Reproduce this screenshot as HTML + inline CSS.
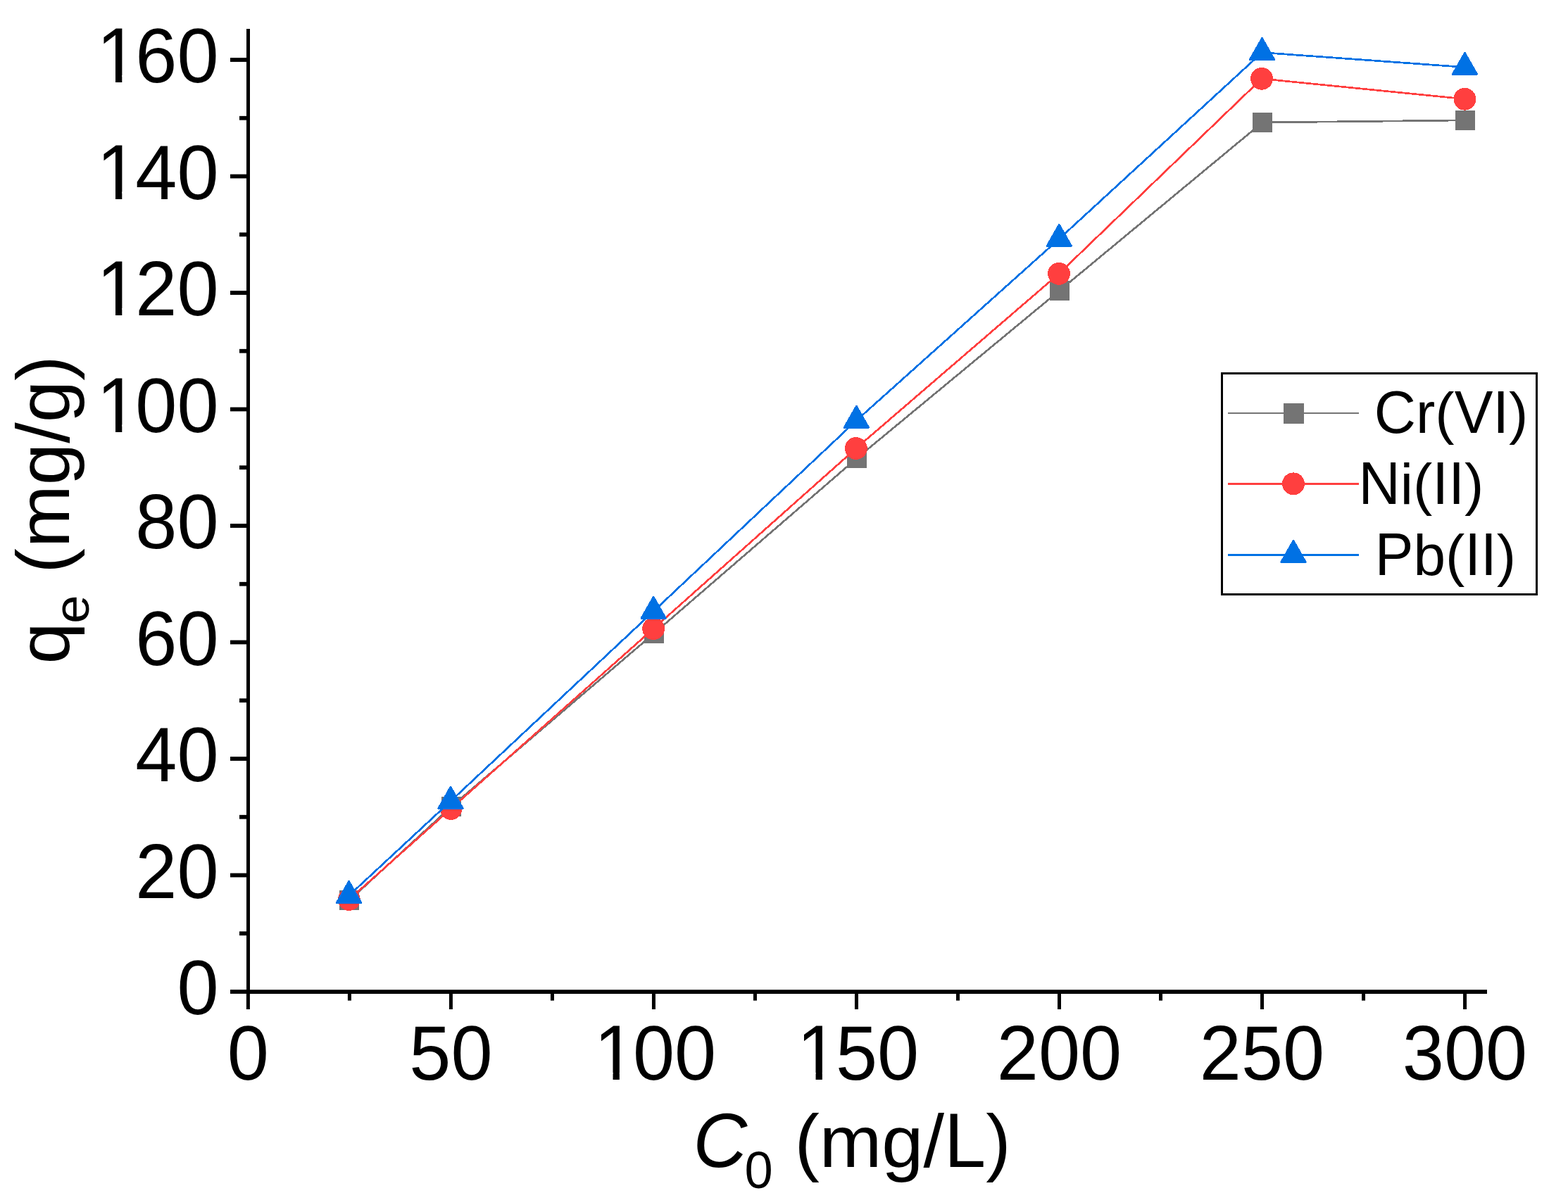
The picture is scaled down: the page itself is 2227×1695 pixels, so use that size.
<!DOCTYPE html>
<html><head><meta charset="utf-8"><title>qe vs C0</title>
<style>html,body{margin:0;padding:0;background:#fff;}svg{display:block;}text{font-family:"Liberation Sans",Arial,sans-serif;fill:#000;font-kerning:none;white-space:pre;}</style></head><body>
<svg width="2227" height="1695" viewBox="0 0 2227 1695">
<rect x="0" y="0" width="2227" height="1695" fill="#fff"/>
<defs><clipPath id="one" clipPathUnits="userSpaceOnUse"><rect x="-20" y="-200" width="400" height="189.90"/><rect x="30.77" y="-21.26" width="9.30" height="26.57"/><rect x="59.53" y="-21.26" width="400" height="47.84"/></clipPath></defs>
<g id="series" shape-rendering="crispEdges">
<polyline points="496.00,1279.40 641.00,1146.00 929.00,899.80 1217.00,651.00 1505.00,412.70 1793.00,174.00 2081.00,170.90" fill="none" stroke="#747474" stroke-width="2.7" stroke-linejoin="miter"/>
<rect x="482.00" y="1265.40" width="28.0" height="28.0" fill="#747474"/>
<rect x="627.00" y="1132.00" width="28.0" height="28.0" fill="#747474"/>
<rect x="915.00" y="885.80" width="28.0" height="28.0" fill="#747474"/>
<rect x="1203.00" y="637.00" width="28.0" height="28.0" fill="#747474"/>
<rect x="1491.00" y="398.70" width="28.0" height="28.0" fill="#747474"/>
<rect x="1779.00" y="160.00" width="28.0" height="28.0" fill="#747474"/>
<rect x="2067.00" y="156.90" width="28.0" height="28.0" fill="#747474"/>
<polyline points="495.90,1278.00 640.50,1149.00 928.10,893.20 1215.90,637.00 1504.00,388.90 1792.00,111.80 2080.40,140.75" fill="none" stroke="#ff3f3f" stroke-width="2.7" stroke-linejoin="miter"/>
<circle cx="495.90" cy="1278.00" r="15.9" fill="#ff3f3f"/>
<circle cx="640.50" cy="1149.00" r="15.9" fill="#ff3f3f"/>
<circle cx="928.10" cy="893.20" r="15.9" fill="#ff3f3f"/>
<circle cx="1215.90" cy="637.00" r="15.9" fill="#ff3f3f"/>
<circle cx="1504.00" cy="388.90" r="15.9" fill="#ff3f3f"/>
<circle cx="1792.00" cy="111.80" r="15.9" fill="#ff3f3f"/>
<circle cx="2080.40" cy="140.75" r="15.9" fill="#ff3f3f"/>
<polyline points="495.60,1272.40 640.00,1138.40 928.20,868.50 1216.40,597.40 1504.30,339.40 1792.50,74.60 2080.40,95.50" fill="none" stroke="#0071e4" stroke-width="2.7" stroke-linejoin="miter"/>
<polygon points="495.60,1252.40 512.70,1282.40 478.50,1282.40" fill="#0071e4" stroke="#0071e4" stroke-width="3" stroke-linejoin="round"/>
<polygon points="640.00,1118.40 657.10,1148.40 622.90,1148.40" fill="#0071e4" stroke="#0071e4" stroke-width="3" stroke-linejoin="round"/>
<polygon points="928.20,848.50 945.30,878.50 911.10,878.50" fill="#0071e4" stroke="#0071e4" stroke-width="3" stroke-linejoin="round"/>
<polygon points="1216.40,577.40 1233.50,607.40 1199.30,607.40" fill="#0071e4" stroke="#0071e4" stroke-width="3" stroke-linejoin="round"/>
<polygon points="1504.30,319.40 1521.40,349.40 1487.20,349.40" fill="#0071e4" stroke="#0071e4" stroke-width="3" stroke-linejoin="round"/>
<polygon points="1792.50,54.60 1809.60,84.60 1775.40,84.60" fill="#0071e4" stroke="#0071e4" stroke-width="3" stroke-linejoin="round"/>
<polygon points="2080.40,75.50 2097.50,105.50 2063.30,105.50" fill="#0071e4" stroke="#0071e4" stroke-width="3" stroke-linejoin="round"/>
</g>
<g id="axes" fill="#000">
<rect x="350" y="41" width="5" height="1371"/>
<rect x="350" y="1406.2" width="1762" height="5.8"/>
<rect x="327" y="1406.10" width="24" height="5.8"/>
<rect x="340" y="1323.35" width="11" height="5.8"/>
<rect x="327" y="1240.60" width="24" height="5.8"/>
<rect x="340" y="1157.85" width="11" height="5.8"/>
<rect x="327" y="1075.10" width="24" height="5.8"/>
<rect x="340" y="992.35" width="11" height="5.8"/>
<rect x="327" y="909.60" width="24" height="5.8"/>
<rect x="340" y="826.85" width="11" height="5.8"/>
<rect x="327" y="744.10" width="24" height="5.8"/>
<rect x="340" y="661.35" width="11" height="5.8"/>
<rect x="327" y="578.60" width="24" height="5.8"/>
<rect x="340" y="495.85" width="11" height="5.8"/>
<rect x="327" y="413.10" width="24" height="5.8"/>
<rect x="340" y="330.35" width="11" height="5.8"/>
<rect x="327" y="247.60" width="24" height="5.8"/>
<rect x="340" y="164.85" width="11" height="5.8"/>
<rect x="327" y="82.10" width="24" height="5.8"/>
<rect x="349.90" y="1410" width="5" height="24"/>
<rect x="493.91" y="1410" width="5" height="11.6"/>
<rect x="637.92" y="1410" width="5" height="24"/>
<rect x="781.94" y="1410" width="5" height="11.6"/>
<rect x="925.95" y="1410" width="5" height="24"/>
<rect x="1069.96" y="1410" width="5" height="11.6"/>
<rect x="1213.97" y="1410" width="5" height="24"/>
<rect x="1357.99" y="1410" width="5" height="11.6"/>
<rect x="1502.00" y="1410" width="5" height="24"/>
<rect x="1646.01" y="1410" width="5" height="11.6"/>
<rect x="1790.03" y="1410" width="5" height="24"/>
<rect x="1934.04" y="1410" width="5" height="11.6"/>
<rect x="2078.05" y="1410" width="5" height="24"/>
</g>
<g id="ylabels">
<text transform="translate(251.48,1441.00)"><tspan font-size="109.49" textLength="59.12" lengthAdjust="spacingAndGlyphs">0</tspan></text>
<text transform="translate(192.36,1275.50)"><tspan font-size="109.49" textLength="118.24" lengthAdjust="spacingAndGlyphs">20</tspan></text>
<text transform="translate(192.36,1110.00)"><tspan font-size="109.49" textLength="118.24" lengthAdjust="spacingAndGlyphs">40</tspan></text>
<text transform="translate(192.36,944.50)"><tspan font-size="109.49" textLength="118.24" lengthAdjust="spacingAndGlyphs">60</tspan></text>
<text transform="translate(192.36,779.00)"><tspan font-size="109.49" textLength="118.24" lengthAdjust="spacingAndGlyphs">80</tspan></text>
<text transform="translate(133.24,613.50)" clip-path="url(#one)"><tspan dx="4.04" font-size="110.55" textLength="59.12" lengthAdjust="spacingAndGlyphs">1</tspan><tspan dx="-4.04" font-size="109.49" textLength="118.24" lengthAdjust="spacingAndGlyphs">00</tspan></text>
<text transform="translate(133.24,448.00)" clip-path="url(#one)"><tspan dx="4.04" font-size="110.55" textLength="59.12" lengthAdjust="spacingAndGlyphs">1</tspan><tspan dx="-4.04" font-size="109.49" textLength="118.24" lengthAdjust="spacingAndGlyphs">20</tspan></text>
<text transform="translate(133.24,282.50)" clip-path="url(#one)"><tspan dx="4.04" font-size="110.55" textLength="59.12" lengthAdjust="spacingAndGlyphs">1</tspan><tspan dx="-4.04" font-size="109.49" textLength="118.24" lengthAdjust="spacingAndGlyphs">40</tspan></text>
<text transform="translate(133.24,117.00)" clip-path="url(#one)"><tspan dx="4.04" font-size="110.55" textLength="59.12" lengthAdjust="spacingAndGlyphs">1</tspan><tspan dx="-4.04" font-size="109.49" textLength="118.24" lengthAdjust="spacingAndGlyphs">60</tspan></text>
</g>
<g id="xlabels">
<text transform="translate(322.84,1534.00)"><tspan font-size="109.49" textLength="59.12" lengthAdjust="spacingAndGlyphs">0</tspan></text>
<text transform="translate(581.31,1534.00)"><tspan font-size="109.49" textLength="118.24" lengthAdjust="spacingAndGlyphs">50</tspan></text>
<text transform="translate(839.77,1534.00)" clip-path="url(#one)"><tspan dx="4.04" font-size="110.55" textLength="59.12" lengthAdjust="spacingAndGlyphs">1</tspan><tspan dx="-4.04" font-size="109.49" textLength="118.24" lengthAdjust="spacingAndGlyphs">00</tspan></text>
<text transform="translate(1127.80,1534.00)" clip-path="url(#one)"><tspan dx="4.04" font-size="110.55" textLength="59.12" lengthAdjust="spacingAndGlyphs">1</tspan><tspan dx="-4.04" font-size="109.49" textLength="118.24" lengthAdjust="spacingAndGlyphs">50</tspan></text>
<text transform="translate(1415.82,1534.00)"><tspan font-size="109.49" textLength="177.36" lengthAdjust="spacingAndGlyphs">200</tspan></text>
<text transform="translate(1703.85,1534.00)"><tspan font-size="109.49" textLength="177.36" lengthAdjust="spacingAndGlyphs">250</tspan></text>
<text transform="translate(1991.87,1534.00)"><tspan font-size="109.49" textLength="177.36" lengthAdjust="spacingAndGlyphs">300</tspan></text>
</g>
<text transform="translate(984.60,1658.40)"><tspan font-size="109.49" textLength="76.77" lengthAdjust="spacingAndGlyphs" font-style="italic">C</tspan><tspan x="72.90" dy="30.00" font-size="74.47" textLength="40.21" lengthAdjust="spacingAndGlyphs">0</tspan><tspan x="114.27" dy="-30.00" font-size="106.3"> (</tspan><tspan font-size="104.71" textLength="147.67" lengthAdjust="spacingAndGlyphs">mg</tspan><tspan font-size="106.3">/</tspan><tspan font-size="109.49" textLength="59.12" lengthAdjust="spacingAndGlyphs">L</tspan><tspan font-size="106.3">)</tspan></text>
<g id="ytitle" transform="translate(98,943.4) rotate(-90)">
<text transform="translate(0.00,0.00)"><tspan font-size="104.71" textLength="59.12" lengthAdjust="spacingAndGlyphs">q</tspan><tspan x="57.70" dy="28.00" font-size="71.22" textLength="40.21" lengthAdjust="spacingAndGlyphs">e</tspan><tspan x="98.67" dy="-28.00" font-size="106.3" textLength="65.73" lengthAdjust="spacing"> (</tspan><tspan font-size="104.71" textLength="148.47" lengthAdjust="spacingAndGlyphs">mg</tspan><tspan font-size="106.3" textLength="29.93" lengthAdjust="spacing">/</tspan><tspan font-size="104.71" textLength="59.52" lengthAdjust="spacingAndGlyphs">g</tspan><tspan font-size="106.3" textLength="35.80" lengthAdjust="spacing">)</tspan></text>
</g>
<g id="legend" shape-rendering="crispEdges">
<rect x="1735.5" y="530.5" width="447" height="314" fill="#fff" stroke="#000" stroke-width="3"/>
<rect x="1744" y="586" width="186" height="2" fill="#747474"/>
<rect x="1744" y="686" width="186" height="3" fill="#ff3f3f"/>
<rect x="1744" y="787" width="186" height="3" fill="#0071e4"/>
<rect x="1823.0" y="572.9" width="29" height="29" fill="#747474"/>
<circle cx="1837" cy="687.4" r="16" fill="#ff3f3f"/>
<polygon points="1837.00,768.50 1854.10,798.50 1819.90,798.50" fill="#0071e4" stroke="#0071e4" stroke-width="3" stroke-linejoin="round" shape-rendering="crispEdges"/>
<text transform="translate(1951.80,614.80)"><tspan font-size="84.46" textLength="59.22" lengthAdjust="spacingAndGlyphs">C</tspan><tspan font-size="80.77" textLength="27.31" lengthAdjust="spacingAndGlyphs">r</tspan><tspan font-size="82.0">(</tspan><tspan font-size="84.46" textLength="77.48" lengthAdjust="spacingAndGlyphs">VI</tspan><tspan font-size="82.0">)</tspan></text>
<text transform="translate(1929.60,715.80)"><tspan font-size="84.46" textLength="59.22" lengthAdjust="spacingAndGlyphs">N</tspan><tspan font-size="80.77" textLength="18.22" lengthAdjust="spacingAndGlyphs">i</tspan><tspan font-size="82.0">(</tspan><tspan font-size="84.46" textLength="45.56" lengthAdjust="spacingAndGlyphs">II</tspan><tspan font-size="82.0">)</tspan></text>
<text transform="translate(1952.70,817.00)"><tspan font-size="84.46" textLength="54.69" lengthAdjust="spacingAndGlyphs">P</tspan><tspan font-size="80.77" textLength="45.60" lengthAdjust="spacingAndGlyphs">b</tspan><tspan font-size="82.0">(</tspan><tspan font-size="84.46" textLength="45.56" lengthAdjust="spacingAndGlyphs">II</tspan><tspan font-size="82.0">)</tspan></text>
</g>
</svg></body></html>
